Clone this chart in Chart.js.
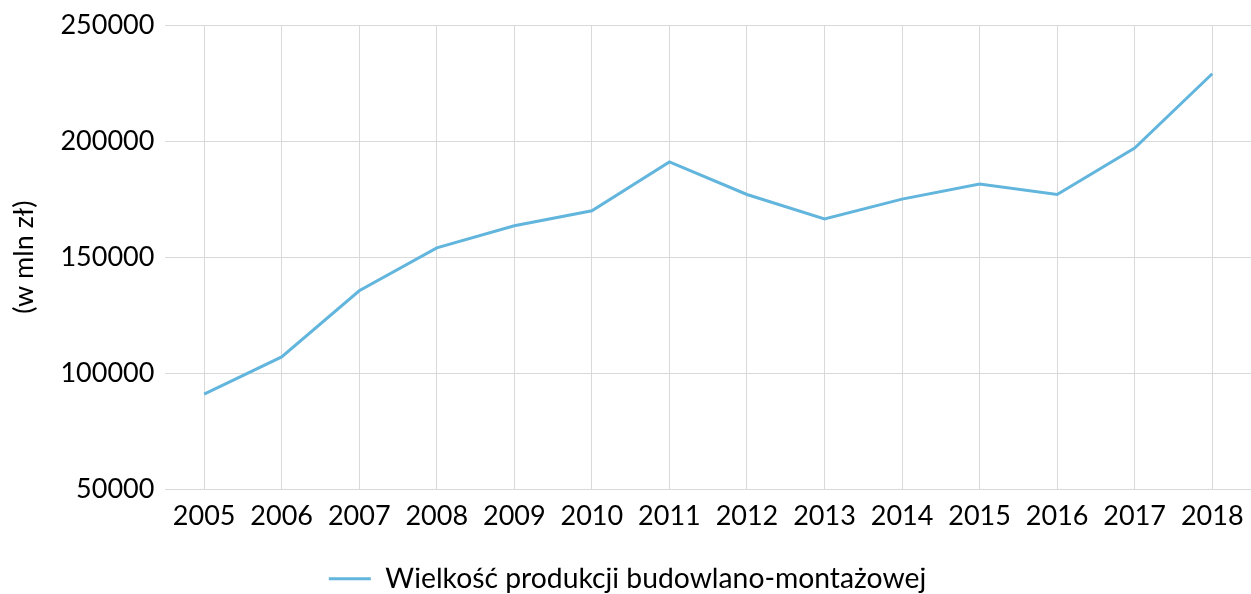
<!DOCTYPE html>
<html>
<head>
<meta charset="utf-8">
<script src="https://cdn.jsdelivr.net/npm/chart.js@4"></script>
<style>
  html, body { margin: 0; padding: 0; background: #fff; }
  #wrap { width: 1251px; height: 594px; }
</style>
</head>
<body>
<div id="wrap"><canvas id="chart"></canvas></div>
<script>
const years = ['2005', '2006', '2007', '2008', '2009', '2010', '2011', '2012', '2013', '2014', '2015', '2016', '2017', '2018'];
const production = [91000, 107000, 135500, 154000, 163500, 170000, 191000, 177000, 166500, 175000, 181500, 177000, 197000, 229000];
const seriesLabel = 'Wielkość produkcji budowlano-montażowej';
const axisTitle = '(w mln zł)';

const ink = '#000';
const grid = '#d9d9d9';
const font = { family: 'Lato', size: 27 };

new Chart(document.getElementById('chart'), {
    type: 'line',
    data: {
        labels: years,
        datasets: [{
            label: seriesLabel,
            data: production,
            borderColor: '#62b5dc',
            backgroundColor: '#62b5dc',
            borderWidth: 3,
            pointRadius: 0,
            tension: 0
        }]
    },
    options: {
        responsive: true,
        maintainAspectRatio: false,
        animation: false,
        layout: { padding: { left: 4, right: 0, top: 25, bottom: -9 } },
        scales: {
            x: {
                offset: true,
                grid: { offset: false, color: grid, drawTicks: false },
                border: { color: grid },
                ticks: { color: ink, font, padding: 11, maxRotation: 0 },
                // plot runs to the right edge; room left for the legend row
                afterFit: s => { s.paddingRight = 0; s.height += 24; }
            },
            y: {
                min: 50000,
                max: 250000,
                grid: { color: grid, drawTicks: false },
                border: { display: false },
                ticks: { stepSize: 50000, color: ink, font, padding: 11, callback: v => String(v) },
                title: { display: true, text: axisTitle, color: ink, font, padding: { bottom: 9 } },
                afterFit: s => { s.paddingTop = 0; }
            }
        },
        plugins: {
            legend: {
                position: 'bottom',
                labels: {
                    color: ink, font: { family: 'Lato', size: 28.3 }, boxWidth: 42, boxHeight: 3, padding: -3,
                    generateLabels: chart => Chart.defaults.plugins.legend.labels.generateLabels(chart)
                        .map(l => Object.assign(l, { lineWidth: 0 }))
                }
            },
            tooltip: { enabled: false }
        }
    }
});
</script>
</body>
</html>
